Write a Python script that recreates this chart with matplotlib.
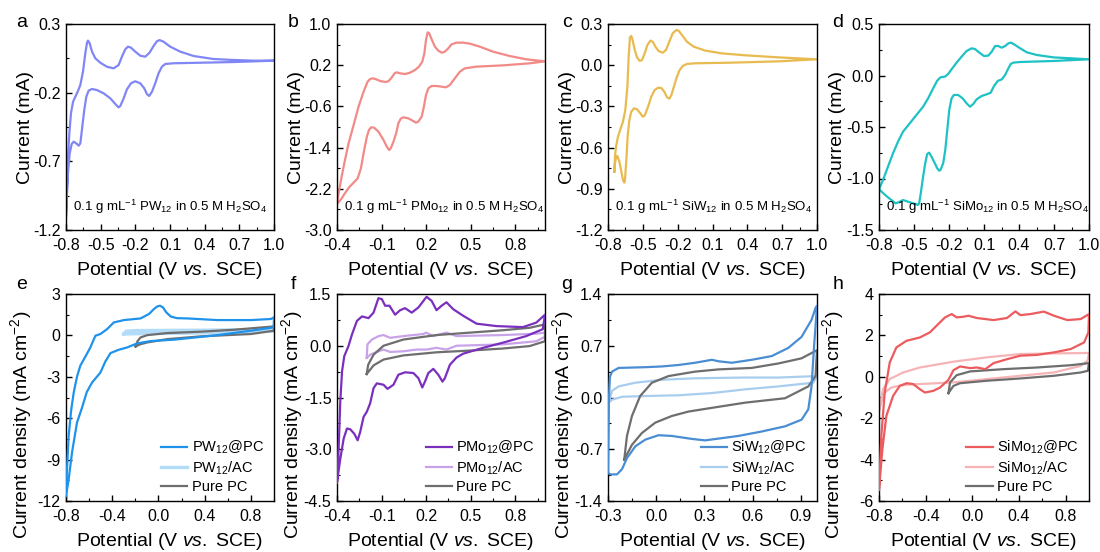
import matplotlib
matplotlib.use('Agg')
import matplotlib.pyplot as plt
from matplotlib.ticker import AutoMinorLocator

plt.rcParams['font.family'] = ['Liberation Sans', 'DejaVu Sans']
plt.rcParams['mathtext.fontset'] = 'custom'
plt.rcParams['mathtext.rm'] = 'Liberation Sans'
plt.rcParams['mathtext.it'] = 'Liberation Sans:italic'
plt.rcParams['mathtext.default'] = 'regular'
plt.rcParams['axes.unicode_minus'] = False

# ---------------- Panel a: PW12 solution ----------------
a_x = [-0.800, -0.791, -0.783, -0.771, -0.757, -0.739, -0.719, -0.699, -0.676, -0.653, -0.633, -0.618, -0.610, -0.595, -0.575, -0.546, -0.503, -0.446, -0.388, -0.345, -0.316, -0.287, -0.264, -0.238, -0.201, -0.157, -0.114, -0.077, -0.042, -0.013, 0.010, 0.044, 0.102, 0.188, 0.304, 0.477, 0.650, 0.822, 1.000,
       1.000, 0.650, 0.361, 0.131, 0.059, 0.030, 0.001, -0.028, -0.056, -0.080, -0.100, -0.123, -0.157, -0.201, -0.238, -0.273, -0.301, -0.330, -0.345, -0.373, -0.417, -0.474, -0.532, -0.575, -0.604, -0.624, -0.642, -0.659, -0.676, -0.690, -0.711, -0.734, -0.751, -0.768, -0.783, -0.794, -0.800]
a_y = [-1.103, -0.884, -0.666, -0.496, -0.350, -0.266, -0.229, -0.193, -0.144, -0.047, 0.086, 0.164, 0.179, 0.159, 0.099, 0.050, 0.018, -0.011, -0.023, 0.001, 0.062, 0.116, 0.135, 0.128, 0.099, 0.069, 0.062, 0.091, 0.140, 0.174, 0.183, 0.171, 0.135, 0.099, 0.067, 0.045, 0.038, 0.033, 0.033,
       0.033, 0.023, 0.018, 0.014, 0.009, -0.011, -0.059, -0.132, -0.193, -0.224, -0.210, -0.168, -0.132, -0.117, -0.132, -0.176, -0.241, -0.297, -0.307, -0.283, -0.241, -0.205, -0.181, -0.173, -0.185, -0.229, -0.326, -0.448, -0.569, -0.586, -0.569, -0.557, -0.574, -0.642, -0.787, -0.982, -1.103]

# ---------------- Panel b: PMo12 solution ----------------
b_x = [-0.400, -0.389, -0.373, -0.351, -0.322, -0.288, -0.255, -0.221, -0.194, -0.177, -0.159, -0.136, -0.109, -0.076, -0.054, -0.031, -0.013, 0.002, 0.025, 0.058, 0.092, 0.125, 0.152, 0.174, 0.188, 0.199, 0.210, 0.221, 0.237, 0.259, 0.282, 0.304, 0.326, 0.349, 0.371, 0.404, 0.449, 0.494, 0.561, 0.650, 0.762, 0.874, 1.000,
       1.000, 0.896, 0.717, 0.539, 0.460, 0.427, 0.393, 0.360, 0.333, 0.304, 0.270, 0.237, 0.215, 0.199, 0.185, 0.170, 0.147, 0.132, 0.109, 0.080, 0.047, 0.029, 0.013, -0.002, -0.020, -0.038, -0.049, -0.065, -0.087, -0.121, -0.150, -0.170, -0.185, -0.199, -0.217, -0.239, -0.261, -0.288, -0.315, -0.344, -0.373, -0.400]
b_y = [-2.495, -2.288, -2.029, -1.706, -1.317, -0.961, -0.605, -0.314, -0.120, -0.068, -0.055, -0.074, -0.107, -0.126, -0.113, -0.036, 0.042, 0.061, 0.042, 0.029, 0.055, 0.107, 0.172, 0.269, 0.430, 0.689, 0.838, 0.819, 0.702, 0.560, 0.482, 0.443, 0.463, 0.528, 0.605, 0.638, 0.638, 0.618, 0.560, 0.463, 0.379, 0.314, 0.275,
       0.275, 0.236, 0.197, 0.172, 0.139, 0.074, -0.055, -0.184, -0.230, -0.217, -0.204, -0.204, -0.249, -0.379, -0.605, -0.799, -0.896, -0.916, -0.877, -0.832, -0.812, -0.838, -0.929, -1.123, -1.285, -1.414, -1.447, -1.382, -1.252, -1.091, -1.013, -1.006, -1.058, -1.188, -1.447, -1.803, -1.997, -2.081, -2.159, -2.275, -2.405, -2.495]

# ---------------- Panel c: SiW12 solution ----------------
c_x = [-0.745, -0.740, -0.731, -0.714, -0.691, -0.671, -0.651, -0.633, -0.622, -0.611, -0.599, -0.588, -0.570, -0.550, -0.527, -0.507, -0.484, -0.461, -0.435, -0.415, -0.392, -0.364, -0.329, -0.300, -0.272, -0.243, -0.211, -0.191, -0.163, -0.120, -0.062, 0.038, 0.182, 0.383, 0.670, 1.000,
       1.000, 0.670, 0.239, -0.048, -0.120, -0.157, -0.186, -0.211, -0.234, -0.254, -0.272, -0.292, -0.315, -0.341, -0.369, -0.398, -0.427, -0.455, -0.484, -0.501, -0.522, -0.550, -0.576, -0.599, -0.616, -0.631, -0.642, -0.654, -0.659, -0.671, -0.685, -0.702, -0.720, -0.731, -0.740, -0.745]
c_y = [-0.775, -0.666, -0.593, -0.520, -0.460, -0.411, -0.326, -0.156, 0.062, 0.203, 0.213, 0.183, 0.111, 0.057, 0.031, 0.038, 0.086, 0.147, 0.179, 0.171, 0.135, 0.103, 0.091, 0.111, 0.171, 0.232, 0.256, 0.251, 0.220, 0.171, 0.135, 0.106, 0.086, 0.072, 0.057, 0.043,
       0.043, 0.028, 0.018, 0.014, 0.009, -0.006, -0.040, -0.096, -0.161, -0.217, -0.244, -0.234, -0.193, -0.166, -0.164, -0.181, -0.229, -0.302, -0.367, -0.375, -0.350, -0.321, -0.314, -0.338, -0.399, -0.520, -0.690, -0.836, -0.855, -0.836, -0.775, -0.702, -0.661, -0.671, -0.715, -0.775]

# ---------------- Panel d: SiMo12 solution ----------------
d_x = [-0.800, -0.766, -0.723, -0.680, -0.637, -0.594, -0.536, -0.479, -0.422, -0.379, -0.336, -0.301, -0.273, -0.235, -0.207, -0.178, -0.135, -0.092, -0.049, -0.006, 0.023, 0.060, 0.100, 0.137, 0.166, 0.195, 0.223, 0.252, 0.281, 0.309, 0.332, 0.367, 0.410, 0.467, 0.553, 0.696, 1.000,
       1.000, 0.696, 0.410, 0.352, 0.329, 0.309, 0.281, 0.252, 0.218, 0.186, 0.157, 0.123, 0.080, 0.037, 0.008, -0.020, -0.049, -0.083, -0.121, -0.158, -0.178, -0.198, -0.215, -0.232, -0.250, -0.273, -0.284, -0.301, -0.321, -0.350, -0.370, -0.387, -0.404, -0.422, -0.442, -0.456, -0.468, -0.485, -0.508, -0.551, -0.594, -0.622, -0.657, -0.694, -0.737, -0.800]
d_y = [-1.105, -1.015, -0.885, -0.756, -0.642, -0.545, -0.464, -0.383, -0.303, -0.222, -0.125, -0.050, -0.018, -0.011, 0.015, 0.060, 0.125, 0.183, 0.238, 0.264, 0.257, 0.222, 0.189, 0.193, 0.231, 0.286, 0.286, 0.270, 0.286, 0.312, 0.319, 0.296, 0.264, 0.225, 0.199, 0.176, 0.157,
       0.157, 0.141, 0.131, 0.125, 0.112, 0.070, 0.005, -0.037, -0.053, -0.102, -0.167, -0.183, -0.199, -0.231, -0.277, -0.303, -0.270, -0.222, -0.189, -0.189, -0.222, -0.335, -0.529, -0.723, -0.853, -0.917, -0.924, -0.901, -0.853, -0.788, -0.749, -0.762, -0.853, -0.982, -1.144, -1.241, -1.257, -1.248, -1.241, -1.225, -1.209, -1.225, -1.241, -1.209, -1.170, -1.105]

# ---------------- Panel e ----------------
e_pc_x = [-0.800, -0.777, -0.755, -0.733, -0.705, -0.676, -0.630, -0.589, -0.560, -0.545, -0.502, -0.444, -0.386, -0.299, -0.155, -0.082, -0.039, -0.010, 0.013, 0.039, 0.068, 0.106, 0.160, 0.250, 0.511, 0.800, 0.974, 1.000,
          0.997, 0.800, 0.511, 0.135, -0.067, -0.184, -0.270, -0.343, -0.415, -0.460, -0.502, -0.574, -0.620, -0.661, -0.705, -0.748, -0.777, -0.800]
e_pc_y = [-11.15, -7.28, -5.40, -4.13, -3.00, -2.19, -1.50, -0.87, -0.30, -0.02, 0.10, 0.46, 0.94, 1.11, 1.23, 1.55, 1.91, 2.10, 2.15, 2.03, 1.67, 1.37, 1.25, 1.23, 1.11, 1.11, 1.19, 1.31,
          0.58, 0.34, 0.02, -0.31, -0.41, -0.58, -0.87, -1.04, -1.28, -1.90, -2.69, -3.41, -4.10, -5.23, -6.32, -8.49, -10.43, -11.64]
e_ac_x = [-0.30, -0.28, -0.20, 0.0, 0.40, 0.80, 1.0, 1.0, 0.80, 0.40, 0.0, -0.20, -0.30]
e_ac_y = [0.10, 0.30, 0.35, 0.36, 0.38, 0.42, 0.52, 0.32, 0.25, 0.18, 0.14, 0.12, 0.10]
e_bare_x = [-0.198, -0.180, -0.155, -0.097, 0.077, 0.366, 0.655, 1.0, 1.0, 0.80, 0.366, 0.077, -0.097, -0.160, -0.198]
e_bare_y = [-0.80, -0.40, -0.15, 0.02, 0.17, 0.27, 0.41, 0.65, 0.34, 0.10, -0.07, -0.27, -0.51, -0.65, -0.80]

# ---------------- Panel f ----------------
f_pc_x = [-0.400, -0.389, -0.378, -0.366, -0.351, -0.322, -0.299, -0.266, -0.232, -0.188, -0.154, -0.121, -0.098, -0.076, -0.047, -0.009, 0.025, 0.058, 0.103, 0.148, 0.203, 0.237, 0.270, 0.304, 0.337, 0.382, 0.449, 0.539, 0.673, 0.851, 0.941, 1.000,
          0.985, 0.874, 0.717, 0.583, 0.449, 0.405, 0.360, 0.326, 0.310, 0.282, 0.248, 0.215, 0.192, 0.174, 0.148, 0.114, 0.058, 0.013, -0.020, -0.060, -0.087, -0.132, -0.154, -0.177, -0.199, -0.221, -0.244, -0.261, -0.284, -0.311, -0.333, -0.355, -0.378, -0.400]
f_pc_y = [-3.96, -2.99, -1.62, -0.74, -0.30, 0.00, 0.33, 0.72, 0.85, 0.80, 0.96, 1.38, 1.35, 1.16, 1.16, 0.90, 1.03, 1.09, 0.96, 1.11, 1.42, 1.30, 1.03, 1.16, 1.26, 1.06, 0.87, 0.64, 0.57, 0.54, 0.67, 0.90,
          0.48, 0.28, 0.09, -0.06, -0.23, -0.34, -0.55, -0.94, -1.04, -0.84, -0.67, -0.79, -1.04, -1.21, -0.94, -0.79, -0.77, -0.84, -1.13, -1.25, -1.13, -1.09, -1.23, -1.67, -1.91, -2.06, -2.50, -2.74, -2.55, -2.42, -2.40, -2.69, -3.28, -3.96]
f_ac_x = [-0.20, -0.195, -0.165, -0.12, -0.087, -0.042, 0.047, 0.18, 0.20, 0.248, 0.337, 0.404, 0.717, 0.941, 1.0,
          1.0, 0.941, 0.717, 0.404, 0.337, 0.27, 0.203, 0.136, 0.047, -0.042, -0.087, -0.132, -0.177, -0.20]
f_ac_y = [-0.35, 0.04, 0.18, 0.28, 0.31, 0.23, 0.28, 0.34, 0.38, 0.28, 0.38, 0.28, 0.31, 0.35, 0.38,
          0.26, 0.13, 0.04, 0.0, -0.11, -0.06, -0.11, -0.11, -0.16, -0.18, -0.11, -0.18, -0.26, -0.35]
f_bare_x = [-0.20, -0.19, -0.154, -0.087, 0.047, 0.27, 0.494, 0.717, 0.896, 1.0, 1.0, 0.896, 0.717, 0.494, 0.27, 0.047, -0.087, -0.154, -0.20]
f_bare_y = [-0.82, -0.55, -0.26, 0.0, 0.18, 0.31, 0.38, 0.45, 0.52, 0.62, 0.13, -0.01, -0.08, -0.14, -0.19, -0.28, -0.40, -0.57, -0.82]

# ---------------- Panel g ----------------
g_pc_x = [-0.300, -0.294, -0.288, -0.275, -0.234, -0.068, 0.035, 0.139, 0.242, 0.346, 0.387, 0.470, 0.594, 0.718, 0.821, 0.904, 0.966, 0.991, 1.000,
          0.983, 0.966, 0.946, 0.904, 0.801, 0.656, 0.511, 0.408, 0.304, 0.221, 0.097, 0.014, -0.068, -0.130, -0.182, -0.213, -0.244, -0.286, -0.300]
g_pc_y = [-1.02, 0.00, 0.28, 0.35, 0.40, 0.41, 0.42, 0.44, 0.47, 0.51, 0.49, 0.47, 0.51, 0.56, 0.67, 0.82, 1.05, 1.21, 1.24,
          0.73, 0.15, -0.16, -0.30, -0.39, -0.46, -0.52, -0.55, -0.58, -0.56, -0.52, -0.51, -0.57, -0.66, -0.82, -0.97, -1.04, -1.04, -1.02]
g_ac_x = [-0.296, -0.275, -0.234, -0.13, 0.035, 0.242, 0.552, 0.759, 1.0, 0.977, 0.759, 0.552, 0.346, 0.139, -0.068, -0.213, -0.275, -0.296]
g_ac_y = [-0.07, 0.09, 0.15, 0.20, 0.24, 0.26, 0.27, 0.27, 0.29, 0.20, 0.15, 0.11, 0.06, 0.03, 0.02, 0.01, -0.03, -0.07]
g_bare_x = [-0.199, -0.182, -0.151, -0.100, -0.027, 0.077, 0.242, 0.387, 0.594, 0.759, 0.904, 1.000,
            0.991, 0.946, 0.801, 0.552, 0.346, 0.201, 0.097, -0.006, -0.089, -0.151, -0.199]
g_bare_y = [-0.84, -0.52, -0.25, 0.02, 0.20, 0.29, 0.35, 0.38, 0.40, 0.46, 0.53, 0.64,
            0.29, 0.15, -0.01, -0.07, -0.14, -0.19, -0.25, -0.34, -0.48, -0.64, -0.84]

# ---------------- Panel h ----------------
h_pc_x = [-0.800, -0.780, -0.751, -0.708, -0.651, -0.564, -0.450, -0.363, -0.306, -0.234, -0.177, -0.134, -0.077, -0.033, 0.039, 0.182, 0.297, 0.369, 0.412, 0.498, 0.613, 0.700, 0.814, 0.929, 1.000,
          0.995, 0.958, 0.843, 0.700, 0.556, 0.412, 0.297, 0.182, 0.111, 0.039, -0.019, -0.105, -0.162, -0.205, -0.277, -0.335, -0.406, -0.450, -0.507, -0.564, -0.622, -0.679, -0.737, -0.771, -0.800]
h_pc_y = [-5.44, -2.85, -0.76, 0.69, 1.42, 1.74, 1.90, 2.15, 2.47, 2.87, 3.03, 2.87, 2.90, 2.95, 2.84, 2.74, 2.84, 3.16, 2.98, 3.03, 3.15, 2.95, 2.74, 2.79, 3.03,
          2.15, 1.66, 1.34, 1.18, 1.06, 1.02, 0.85, 0.66, 0.37, 0.45, 0.42, 0.50, 0.32, -0.15, -0.52, -0.68, -0.76, -0.60, -0.35, -0.31, -0.44, -0.92, -1.89, -3.50, -5.44]
h_ac_x = [-0.80, -0.766, -0.708, -0.593, -0.45, -0.162, 0.125, 0.412, 0.70, 1.0,
          0.987, 0.93, 0.70, 0.412, 0.125, -0.162, -0.45, -0.593, -0.694, -0.751, -0.78, -0.80]
h_ac_y = [-1.65, -0.60, -0.11, 0.21, 0.45, 0.73, 0.94, 1.10, 1.13, 1.15,
          0.77, 0.53, 0.21, 0.05, -0.11, -0.27, -0.35, -0.39, -0.52, -0.76, -1.24, -1.65]
h_bare_x = [-0.205, -0.191, -0.134, -0.019, 0.269, 0.556, 0.843, 1.0, 0.99, 0.93, 0.70, 0.412, 0.125, -0.105, -0.162, -0.205]
h_bare_y = [-0.79, -0.27, 0.08, 0.26, 0.37, 0.45, 0.56, 0.66, 0.29, 0.21, 0.05, -0.08, -0.19, -0.31, -0.44, -0.79]

# ---------------- axes / ticks ----------------
top_xticks = [-0.8, -0.5, -0.2, 0.1, 0.4, 0.7, 1.0]
b_xticks = [-0.4, -0.1, 0.2, 0.5, 0.8]
e_xticks = [-0.8, -0.4, 0.0, 0.4, 0.8]
g_xticks = [-0.3, 0.0, 0.3, 0.6, 0.9]
a_yticks = [0.3, -0.2, -0.7, -1.2]
b_yticks = [1.0, 0.2, -0.6, -1.4, -2.2, -3.0]
c_yticks = [0.3, 0.0, -0.3, -0.6, -0.9, -1.2]
d_yticks = [0.5, 0.0, -0.5, -1.0, -1.5]
e_yticks = [3, 0, -3, -6, -9, -12]
f_yticks = [1.5, 0.0, -1.5, -3.0, -4.5]
g_yticks = [1.4, 0.7, 0.0, -0.7, -1.4]
h_yticks = [4, 2, 0, -2, -4, -6]

notes = ["0.1 g mL$^{-1}$ PW$_{12}$ in 0.5 M H$_2$SO$_4$",
         "0.1 g mL$^{-1}$ PMo$_{12}$ in 0.5 M H$_2$SO$_4$",
         "0.1 g mL$^{-1}$ SiW$_{12}$ in 0.5 M H$_2$SO$_4$",
         "0.1 g mL$^{-1}$ SiMo$_{12}$ in 0.5 M H$_2$SO$_4$"]
legend_e = ["PW$_{12}$@PC", "PW$_{12}$/AC", "Pure PC"]
legend_f = ["PMo$_{12}$@PC", "PMo$_{12}$/AC", "Pure PC"]
legend_g = ["SiW$_{12}$@PC", "SiW$_{12}$/AC", "Pure PC"]
legend_h = ["SiMo$_{12}$@PC", "SiMo$_{12}$/AC", "Pure PC"]

GRAY = '#6e6e6e'
XLAB = 'Potential (V $\\mathit{vs.}$ SCE)'

fig = plt.figure(figsize=(11, 5.52), dpi=100)
W, H = 1100, 552
lefts = [66, 337, 608, 879]
widths = [208, 208, 209, 210]

def mk(col, row):
    top, bot = (24, 230) if row == 0 else (294, 501)
    return fig.add_axes([lefts[col] / W, 1 - bot / H, widths[col] / W, (bot - top) / H])

def fmt(v, nd):
    return f"{v:.{nd}f}" if nd > 0 else f"{v:.0f}"

def style(ax, xlim, xt, xnd, ylim, yt, ynd, ylabel, ly):
    ax.set_xlim(*xlim)
    ax.set_ylim(*ylim)
    ax.set_xticks(xt)
    ax.set_xticklabels([fmt(v, xnd) for v in xt])
    ax.set_yticks(yt)
    ax.set_yticklabels([fmt(v, ynd) for v in yt])
    ax.xaxis.set_minor_locator(AutoMinorLocator(2))
    ax.yaxis.set_minor_locator(AutoMinorLocator(2))
    ax.tick_params(which='both', direction='in', labelsize=11.5)
    ax.tick_params(axis='x', which='major', pad=6)
    ax.tick_params(axis='y', which='major', pad=4)
    ax.tick_params(which='major', length=4, width=1)
    ax.tick_params(which='minor', length=2, width=0.8)
    for s in ax.spines.values():
        s.set_linewidth(1.0)
    ax.set_xlabel(XLAB, fontsize=14, labelpad=5)
    ax.set_ylabel(ylabel, fontsize=14)
    ax.yaxis.set_label_coords(-0.155, ly)

top_data = [(a_x, a_y, '#8087f4', (-0.8, 1.0), top_xticks, 1, (-1.2, 0.3), a_yticks, 1),
            (b_x, b_y, '#f28a87', (-0.4, 1.0), b_xticks, 1, (-3.0, 1.0), b_yticks, 1),
            (c_x, c_y, '#e8bb50', (-0.8, 1.0), top_xticks, 1, (-1.2, 0.3), c_yticks, 1),
            (d_x, d_y, '#1fc2c4', (-0.8, 1.0), top_xticks, 1, (-1.5, 0.5), d_yticks, 1)]
letters_top = ['a', 'b', 'c', 'd']
letter_x = [22, 293, 567, 838]
for i, (x, y, c, xl, xt, xnd, yl, yt, ynd) in enumerate(top_data):
    ax = mk(i, 0)
    ax.plot(x, y, color=c, lw=1.6, solid_joinstyle='round')
    style(ax, xl, xt, xnd, yl, yt, ynd, 'Current (mA)', 0.5)
    ax.text(0.035, 0.07, notes[i], transform=ax.transAxes, fontsize=9.5, ha='left', va='bottom')
    fig.text(letter_x[i] / W, 1 - 27 / H, letters_top[i], fontsize=14, ha='center', va='baseline')

bot_data = [((e_pc_x, e_pc_y, '#1f93eb'), (e_ac_x, e_ac_y, '#b3dcf8'), (e_bare_x, e_bare_y),
             (-0.8, 1.0), e_xticks, 1, (-12, 3), e_yticks, 0, legend_e),
            ((f_pc_x, f_pc_y, '#7a30bd'), (f_ac_x, f_ac_y, '#c9a3ea'), (f_bare_x, f_bare_y),
             (-0.4, 1.0), b_xticks, 1, (-4.5, 1.5), f_yticks, 1, legend_f),
            ((g_pc_x, g_pc_y, '#4a8dd3'), (g_ac_x, g_ac_y, '#a9cdef'), (g_bare_x, g_bare_y),
             (-0.3, 1.0), g_xticks, 1, (-1.4, 1.4), g_yticks, 1, legend_g),
            ((h_pc_x, h_pc_y, '#ec5b5e'), (h_ac_x, h_ac_y, '#f6b4b6'), (h_bare_x, h_bare_y),
             (-0.8, 1.0), e_xticks, 1, (-6, 4), h_yticks, 0, legend_h)]
letters_bot = ['e', 'f', 'g', 'h']
for i, (pc, ac, bare, xl, xt, xnd, yl, yt, ynd, labs) in enumerate(bot_data):
    ax = mk(i, 1)
    l1, = ax.plot(pc[0], pc[1], color=pc[2], lw=1.6, zorder=3, solid_joinstyle='round')
    l2, = ax.plot(ac[0], ac[1], color=ac[2], lw=2.4 if i == 0 else 1.6, zorder=2, solid_joinstyle='round')
    l3, = ax.plot(bare[0], bare[1], color=GRAY, lw=1.6, zorder=2, solid_joinstyle='round')
    style(ax, xl, xt, xnd, yl, yt, ynd, 'Current density (mA cm$^{-2}$)', 0.37)
    ax.legend([l1, l2, l3], labs, loc='lower right', bbox_to_anchor=(1.0, -0.015), frameon=False,
              fontsize=10.5, handlelength=1.8, handletextpad=0.3, labelspacing=0.22, borderaxespad=0.3)
    fig.text(letter_x[i] / W, 1 - 289 / H, letters_bot[i], fontsize=14, ha='center', va='baseline')

fig.savefig('out.png', dpi=100)
